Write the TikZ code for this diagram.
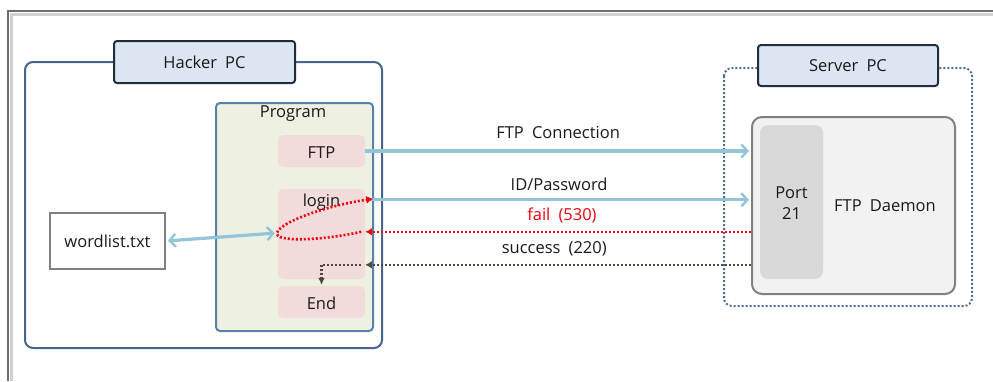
\documentclass[tikz,border=0pt]{standalone}
\usepackage{fontspec}
\setmainfont[WordSpace=1.9]{Open Sans}
\usetikzlibrary{arrows.meta,calc}
\definecolor{framegray}{HTML}{6E6E6E}
\definecolor{frameshadow}{HTML}{D0D0D0}
\definecolor{hackborder}{HTML}{46648C}
\definecolor{labelfill}{HTML}{DCE6F2}
\definecolor{labelborder}{HTML}{1F2D3D}
\definecolor{progfill}{HTML}{EEF1E1}
\definecolor{progborder}{HTML}{5A80AC}
\definecolor{pinkfill}{HTML}{F2DCDB}
\definecolor{bluearr}{HTML}{92C4DA}
\definecolor{redarr}{HTML}{F00010}
\definecolor{darkarr}{HTML}{4B4A3C}
\definecolor{daemonfill}{HTML}{F2F2F2}
\definecolor{daemonborder}{HTML}{808080}
\definecolor{portfill}{HTML}{D9D9D9}
\definecolor{serverdot}{HTML}{4F6B8E}
\definecolor{txt}{HTML}{1A1A1A}
\begin{document}
\begin{tikzpicture}[x=1pt,y=-1pt,
  every node/.style={font=\fontsize{16.5}{18}\selectfont, text=txt, inner sep=0pt},
  titlebox/.style={draw=labelborder, line width=2pt, fill=labelfill, rounded corners=3pt, minimum width=180pt, minimum height=41pt},
  stepbox/.style={fill=pinkfill, rounded corners=5pt, minimum width=87pt},
  bluearrow/.style={draw=bluearr, line width=3.2pt, -{Straight Barb[length=6pt,width=13pt,line width=2.4pt]}},
  redarrow/.style={draw=redarr, line width=2.6pt, dash pattern=on 2pt off 2pt, -{Latex[length=7pt,width=8pt]}},
  darkarrow/.style={draw=darkarr, line width=2.6pt, dash pattern=on 2pt off 2pt, -{Latex[length=7pt,width=8pt]}}
]
\useasboundingbox (0,0) rectangle (993,381);
% frame
\draw[frameshadow, line width=3pt] (11,381) -- (11,14) -- (993,14);
\draw[framegray, line width=2.5pt] (8,381) -- (8,11) -- (993,11);

% Hacker PC
\draw[hackborder, line width=2pt, rounded corners=8pt] (25,62) rectangle (382,348);
\node[titlebox, minimum width=181pt, minimum height=42pt] (hacker) at (204.5,62) {Hacker PC};

% Program
\node[draw=progborder, line width=2pt, fill=progfill, rounded corners=4pt, minimum width=157pt, minimum height=228pt] (prog) at (294.5,217) {};
\node (progt) at (293,114) {Program};
\node[stepbox, minimum height=32pt] (ftp) at (321.5,151) {};
\node (ftpt) at (321.5,153) {FTP};
\node[stepbox, minimum height=90pt] (login) at (321.5,234) {};
\node (logint) at (321.5,202) {login};
\node[stepbox, minimum height=32pt] (end) at (321.5,302) {};
\node (endt) at (321.5,303) {End};

% wordlist
\node[draw=daemonborder, line width=2pt, fill=white, minimum width=115pt, minimum height=56pt] (word) at (107.5,241) {wordlist.txt};

% Server PC
\draw[serverdot, line width=2pt, dash pattern=on 2pt off 2pt, rounded corners=8pt] (724,68) rectangle (972,306);
\node[titlebox] (server) at (848,65.5) {Server PC};
\node[draw=daemonborder, line width=2pt, fill=daemonfill, rounded corners=10pt, minimum width=203pt, minimum height=177pt] (daemon) at (853.5,205.5) {};
\node[fill=portfill, rounded corners=8pt, minimum width=63pt, minimum height=154pt] (port) at (791.5,202) {};
\node[align=center, font=\fontsize{16.5}{21}\selectfont] (portt) at (791.5,203) {Port\\21};
\node (daemont) at (885,206) {FTP Daemon};

% coordinates on the login step and the daemon
\coordinate (lid) at ($(login.north east)+(2,11)$);
\coordinate (lfail) at ($(login.north east)+(0,43)$);
\coordinate (lsucc) at ($(login.north east)+(0,76)$);
\coordinate (lleft) at ($(login.west)+(-1,-1)$);
\coordinate (ldown) at ($(login.south)+(0,-15)$);

% arrows
\draw[bluearrow, shorten >=2pt] (ftp.east) -- (ftp.east -| daemon.west) node[midway, above=11pt] (l1) {FTP Connection};
\draw[bluearrow, shorten >=2pt] (lid) -- (lid -| daemon.west) node[midway, above=8pt] (l2) {ID/Password};
\draw[redarrow] (lfail -| daemon.west) -- (lfail) node[pos=0.49, above=7pt, text=redarr] (l3) {fail (530)};
\draw[darkarrow] (lsucc -| daemon.west) -- (lsucc) node[pos=0.51, above=7pt] (l4) {success (220)};
\draw[redarr, line width=2.6pt, dash pattern=on 2pt off 2pt, -{Latex[length=7pt,width=8pt]}]
  ($(lfail)+(-4,0)$) .. controls (320,241) and (274,242) .. (lleft) .. controls (281,221) and (330,205) .. ($(lid)+(6,-1)$);
\draw[darkarrow, -{Latex[length=7pt,width=7pt]}] ($(lsucc)+(-4,0)$) -- (lsucc -| ldown) -- ($(end.north)+(0,-1)$);
\draw[bluearr, line width=3.2pt, {Straight Barb[length=6pt,width=13pt,line width=2.4pt]}-{Straight Barb[length=6pt,width=13pt,line width=2.4pt]}, shorten <=2pt, shorten >=2pt] (word.east) -- (lleft);
\end{tikzpicture}
\end{document}
